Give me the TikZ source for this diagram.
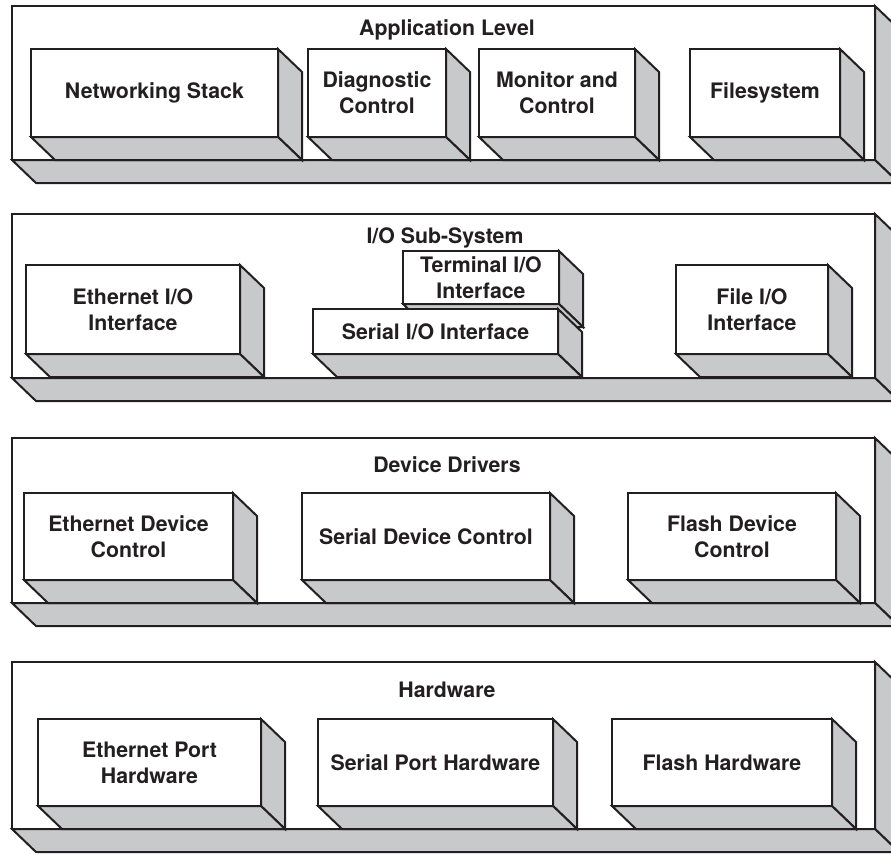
\documentclass[tikz,border=0pt]{standalone}
\usepackage{fontspec}
\setmainfont{TeX Gyre Heros}
\definecolor{facegray}{RGB}{200,201,203}
\definecolor{inkblack}{RGB}{35,31,32}
\tikzset{
  edge/.style={line width=2pt, draw=inkblack, line join=miter},
  face/.style={edge, fill=facegray},
  frontface/.style={edge, fill=white, inner sep=0pt, outer sep=0pt, align=center, text=inkblack,
    font=\bfseries\fontsize{21.3}{26}\selectfont},
  panel/.style={edge, fill=white, inner sep=0pt, outer sep=0pt},
  tiertitle/.style={inner sep=0pt, anchor=base, text=inkblack, font=\bfseries\fontsize{21.3}{26}\selectfont}
}
\newcommand\dX{24}
\newcommand\dY{23}
% name, x1, y1, x2, y2, text
\newcommand\blockbox[6]{%
  \filldraw[face] (#4,#3) -- ({#4+\dX},{#3+\dY}) -- ({#4+\dX},{#5+\dY}) -- (#4,#5) -- cycle;
  \filldraw[face] (#2,#5) -- (#4,#5) -- ({#4+\dX},{#5+\dY}) -- ({#2+\dX},{#5+\dY}) -- cycle;
  \node[frontface, minimum width={(#4-#2)*1pt}, minimum height={(#5-#3)*1pt}] (#1) at ({(#2+#4)/2},{(#3+#5)/2}) {#6};
}
% name, top, bottom, title name, title x, title baseline, title
\newcommand\tierpanel[7]{%
  \filldraw[face] (875,#2) -- ({875+\dX},{#2+\dY}) -- ({875+\dX},{#3+\dY}) -- (875,#3) -- cycle;
  \filldraw[face] (12,#3) -- (875,#3) -- ({875+\dX},{#3+\dY}) -- ({12+\dX},{#3+\dY}) -- cycle;
  \node[panel, minimum width=863pt, minimum height={(#3-#2)*1pt}] (#1) at (443.5,{(#2+#3)/2}) {};
  \node[tiertitle] (#4) at (#5,#6) {#7};
}
\begin{document}
\begin{tikzpicture}[x=1pt,y=-1pt]
\useasboundingbox (0,0) rectangle (891,854);
\clip (0,0) rectangle (891,854);

% Application level
\tierpanel{app}{6}{160}{apptitle}{447}{35}{Application Level}
\blockbox{net}{31}{49}{278}{137}{Networking Stack}
\blockbox{diag}{308}{49}{446}{137}{Diagnostic\\Control}
\blockbox{mon}{479}{49}{635}{137}{Monitor and\\Control}
\blockbox{fs}{690}{49}{840}{137}{Filesystem}

% I/O sub-system
\tierpanel{io}{214}{378}{iotitle}{445}{243}{I/O Sub-System}
\blockbox{ethio}{26}{265}{240}{354}{Ethernet I/O\\Interface}
\blockbox{termio}{403}{251}{559}{304}{Terminal I/O\\Interface}
\blockbox{serio}{313}{309}{558}{354}{Serial I/O Interface}
\blockbox{fileio}{676}{265}{828}{354}{File I/O\\Interface}

% Device drivers
\tierpanel{dd}{438}{603}{ddtitle}{447}{472}{Device Drivers}
\blockbox{ethdev}{24}{493}{233}{580}{Ethernet Device\\Control}
\blockbox{serdev}{302}{493}{550}{580}{Serial Device Control}
\blockbox{fladev}{628}{493}{836}{580}{Flash Device\\Control}

% Hardware
\tierpanel{hw}{662}{829}{hwtitle}{447}{697}{Hardware}
\blockbox{ethhw}{38}{719}{261}{806}{Ethernet Port\\Hardware}
\blockbox{serhw}{318}{719}{553}{806}{Serial Port Hardware}
\blockbox{flahw}{612}{719}{832}{806}{Flash Hardware}
\end{tikzpicture}
\end{document}
